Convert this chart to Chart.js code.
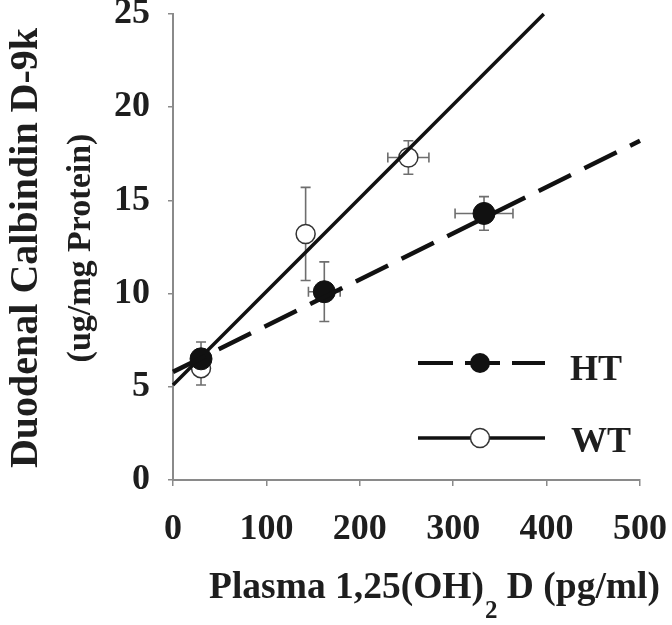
<!DOCTYPE html>
<html><head><meta charset="utf-8">
<script src="https://cdn.jsdelivr.net/npm/chart.js@4.4.0/dist/chart.umd.min.js"></script>
<style>html,body{margin:0;padding:0;background:#fff}</style>
</head><body>
<canvas id="c" width="672" height="625"></canvas>
<script>
// ---- data ----
const htX = [30, 162, 333];
const htY = [6.5, 10.1, 14.3];
const htXErr = [8, 17, 31];
const htYErr = [0.9, 1.6, 0.9];
const wtX = [30, 142, 252];
const wtY = [6.0, 13.2, 17.3];
const wtXErr = [7, 8, 22];
const wtYErr = [0.9, 2.5, 0.9];
const htFitX = [0, 500];
const htFitY = [5.8, 18.2];
const wtFitX = [0, 397];
const wtFitY = [5.1, 25];
const xTickValues = [0, 100, 200, 300, 400, 500];
const yTickValues = [0, 5, 10, 15, 20, 25];
const seriesNames = ['HT', 'WT'];
const xTitleParts = ['Plasma 1,25(OH)', '2', ' D (pg/ml)'];
const yTitleLines = ['Duodenal Calbindin D-9k', '(ug/mg Protein)'];

const pts = (xs, ys) => xs.map((x, i) => ({x, y: ys[i]}));
const FONT = '"Liberation Serif", "Times New Roman", serif';
const TXT = '#1e1e1e';
const AX = '#8a8a8a';

const errorBars = {
  id: 'errorBars',
  beforeDatasetsDraw(chart) {
    const {ctx, scales: {x, y}} = chart;
    const sets = [[htX, htY, htXErr, htYErr], [wtX, wtY, wtXErr, wtYErr]];
    ctx.save();
    ctx.strokeStyle = '#6e6e6e';
    ctx.lineWidth = 1.6;
    const cap = 5;
    sets.forEach(([xs, ys, xe, ye]) => {
      xs.forEach((xv, i) => {
        const px = x.getPixelForValue(xv), py = y.getPixelForValue(ys[i]);
        const x0 = x.getPixelForValue(xv - xe[i]), x1 = x.getPixelForValue(xv + xe[i]);
        const y0 = y.getPixelForValue(ys[i] - ye[i]), y1 = y.getPixelForValue(ys[i] + ye[i]);
        ctx.beginPath();
        ctx.moveTo(x0, py); ctx.lineTo(x1, py);
        ctx.moveTo(x0, py - cap); ctx.lineTo(x0, py + cap);
        ctx.moveTo(x1, py - cap); ctx.lineTo(x1, py + cap);
        ctx.moveTo(px, y0); ctx.lineTo(px, y1);
        ctx.moveTo(px - cap, y0); ctx.lineTo(px + cap, y0);
        ctx.moveTo(px - cap, y1); ctx.lineTo(px + cap, y1);
        ctx.stroke();
      });
    });
    ctx.restore();
  }
};

const texts = {
  id: 'texts',
  afterDraw(chart) {
    const {ctx} = chart;
    ctx.save();
    ctx.fillStyle = TXT;
    // x title with subscript
    ctx.textBaseline = 'alphabetic';
    ctx.textAlign = 'left';
    let xx = 209;
    const base = 598;
    ctx.font = 'bold 37.5px ' + FONT;
    ctx.fillText(xTitleParts[0], xx, base);
    xx += ctx.measureText(xTitleParts[0]).width;
    ctx.font = 'bold 25px ' + FONT;
    ctx.fillText(xTitleParts[1], xx + 1, base + 20);
    xx += ctx.measureText(xTitleParts[1]).width + 1;
    ctx.font = 'bold 37.5px ' + FONT;
    ctx.fillText(xTitleParts[2], xx, base);
    // y title, two rotated lines
    ctx.textAlign = 'center';
    ctx.textBaseline = 'middle';
    [[yTitleLines[0], 27, 40], [yTitleLines[1], 81, 34]].forEach(([t, cx, fs]) => {
      ctx.save();
      ctx.translate(cx, 248);
      ctx.rotate(-Math.PI / 2);
      ctx.font = 'bold ' + fs + 'px ' + FONT;
      ctx.fillText(t, 0, 0);
      ctx.restore();
    });
    // legend
    const l0 = 418, l1 = 545, mx = 480;
    ctx.strokeStyle = '#111';
    ctx.lineWidth = 4;
    ctx.setLineDash([35, 12]);
    ctx.beginPath(); ctx.moveTo(l0, 363); ctx.lineTo(l1, 363); ctx.stroke();
    ctx.setLineDash([]);
    ctx.fillStyle = '#111';
    ctx.beginPath(); ctx.arc(mx, 363, 10, 0, Math.PI * 2); ctx.fill();
    ctx.lineWidth = 3.5;
    ctx.beginPath(); ctx.moveTo(l0, 438); ctx.lineTo(l1, 438); ctx.stroke();
    ctx.fillStyle = '#fff';
    ctx.strokeStyle = '#333';
    ctx.lineWidth = 1.5;
    ctx.beginPath(); ctx.arc(mx, 438, 9.5, 0, Math.PI * 2); ctx.fill(); ctx.stroke();
    ctx.fillStyle = TXT;
    ctx.textAlign = 'left';
    ctx.textBaseline = 'alphabetic';
    ctx.font = 'bold 36px ' + FONT;
    ctx.fillText(seriesNames[0], 570, 380);
    ctx.fillText(seriesNames[1], 571, 452);
    ctx.restore();
  }
};

new Chart(document.getElementById('c'), {
  type: 'scatter',
  data: {
    datasets: [
      {label: seriesNames[0] + ' fit', data: pts(htFitX, htFitY), showLine: true, borderColor: '#111', borderWidth: 4.5, borderDash: [36, 15], pointRadius: 0},
      {label: seriesNames[1] + ' fit', data: pts(wtFitX, wtFitY), showLine: true, borderColor: '#111', borderWidth: 3.5, pointRadius: 0},
      {label: seriesNames[0], data: pts(htX, htY), pointRadius: 11, pointBackgroundColor: '#111', pointBorderColor: '#111', pointBorderWidth: 1},
      {label: seriesNames[1], data: pts(wtX, wtY), pointRadius: 9.5, pointBackgroundColor: '#fff', pointBorderColor: '#333', pointBorderWidth: 1.5}
    ]
  },
  options: {
    responsive: false,
    animation: false,
    devicePixelRatio: 1,
    clip: false,
    layout: {padding: {top: 14, right: 32, bottom: 0, left: 0}},
    plugins: {legend: {display: false}, tooltip: {enabled: false}},
    scales: {
      x: {
        type: 'linear', min: 0, max: 500,
        afterBuildTicks: s => { s.ticks = xTickValues.map(v => ({value: v})); },
        afterFit: s => { s.height = 145; s.paddingLeft = 0; s.paddingRight = 0; },
        grid: {drawOnChartArea: false, drawTicks: true, tickLength: 6, color: AX, lineWidth: 1.5},
        border: {color: AX, width: 2},
        ticks: {font: {family: FONT, size: 36, weight: 'bold'}, color: TXT, padding: 22, maxRotation: 0}
      },
      y: {
        type: 'linear', min: 0, max: 25,
        afterBuildTicks: s => { s.ticks = yTickValues.map(v => ({value: v})); },
        afterFit: s => { s.width = 173; s.paddingTop = 0; s.paddingBottom = 0; },
        grid: {drawOnChartArea: false, drawTicks: true, tickLength: 5, color: AX, lineWidth: 1.5},
        border: {color: AX, width: 2},
        ticks: {font: {family: FONT, size: 36, weight: 'bold'}, color: TXT, padding: 18}
      }
    }
  },
  plugins: [errorBars, texts]
});
</script>
</body></html>
